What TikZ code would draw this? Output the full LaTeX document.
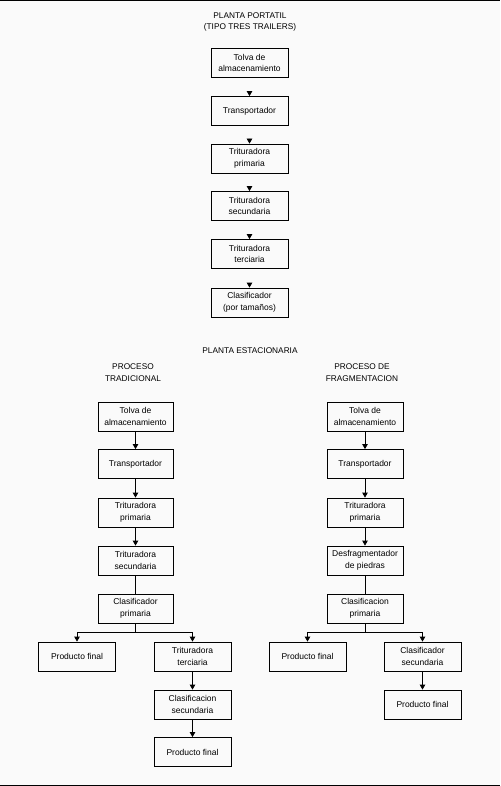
\documentclass[tikz,border=0pt]{standalone}
\usepackage{fontspec}
\setmainfont{Liberation Sans}
\usetikzlibrary{arrows.meta}
\definecolor{bg}{HTML}{FAFAFA}
\begin{document}
\begin{tikzpicture}[x=1pt,y=-1pt,
  box/.style={draw, line width=0.8pt, minimum width=77pt, minimum height=29pt, inner sep=1pt, align=center, font=\fontsize{8.5}{11.5}\selectfont},
  lbl/.style={align=center, inner sep=0pt, font=\fontsize{8.3}{11.5}\selectfont},
  ln/.style={line width=0.8pt},
  arr/.style={line width=0.8pt, -{Triangle[length=5pt,width=5.5pt]}}]
\fill[bg] (0,0) rectangle (500,786);
\useasboundingbox (0,0) rectangle (500,786);
\draw[line width=1pt] (0,1) -- (500,1);
\draw[line width=1pt] (0,785) -- (500,785);

% ---- Planta portatil ----
\node[lbl] (t1) at (250,22) {PLANTA PORTATIL\\(TIPO TRES TRAILERS)};
\node[box] (p1) at (249.5,63) {Tolva de\\almacenamiento};
\node[box] (p2) at (249.5,111) {Transportador};
\node[box] (p3) at (249.5,158.5) {Trituradora\\primaria};
\node[box] (p4) at (249.5,206) {Trituradora\\secundaria};
\node[box] (p5) at (249.5,254) {Trituradora\\terciaria};
\node[box] (p6) at (249.5,302.5) {Clasificador\\(por tamaños)};
\foreach \n in {p2,p3,p4,p5,p6}
  \draw[arr] ([yshift=5pt]\n.north) -- (\n.north);

% ---- Planta estacionaria ----
\node[lbl] (t2) at (250,351) {PLANTA ESTACIONARIA};
\node[lbl] (t3) at (133,372.5) {PROCESO\\TRADICIONAL};
\node[lbl] (t4) at (362,372.5) {PROCESO DE\\FRAGMENTACION};

% left column
\node[box, minimum width=75pt] (a1) at (135.5,416.5) {Tolva de\\almacenamiento};
\node[box, minimum width=75pt] (a2) at (135.5,464) {Transportador};
\node[box, minimum width=75pt] (a3) at (135.5,512.5) {Trituradora\\primaria};
\node[box, minimum width=75pt] (a4) at (135.5,560.5) {Trituradora\\secundaria};
\node[box, minimum width=75pt] (a5) at (135.5,608.5) {Clasificador\\primaria};
\node[box] (a6) at (77,656.5) {Producto final};
\node[box] (a7) at (192.5,656.5) {Trituradora\\terciaria};
\node[box] (a8) at (192.5,704.5) {Clasificacion\\secundaria};
\node[box] (a9) at (192.5,752) {Producto final};
\draw[arr] (a1) -- (a2);
\draw[arr] (a2) -- (a3);
\draw[arr] (a3) -- (a4);
\draw[ln] (a4) -- (a5);
\draw[ln] (a5.south) -- ++(0,9) coordinate (sa);
\draw[arr] (sa) -| (a6.north);
\draw[arr] (sa) -| (a7.north);
\draw[arr] (a7) -- (a8);
\draw[arr] (a8) -- (a9);

% right column
\node[box, minimum width=76pt] (b1) at (365,416.5) {Tolva de\\almacenamiento};
\node[box, minimum width=76pt] (b2) at (365,464) {Transportador};
\node[box, minimum width=76pt] (b3) at (365,512.5) {Trituradora\\primaria};
\node[box, minimum width=76pt] (b4) at (365,560.5) {Desfragmentador\\de piedras};
\node[box, minimum width=76pt] (b5) at (365,608.5) {Clasificacion\\primaria};
\node[box] (b6) at (307.5,656.5) {Producto final};
\node[box] (b7) at (422.5,656.5) {Clasificador\\secundaria};
\node[box] (b8) at (422.5,704.5) {Producto final};
\draw[arr] (b1) -- (b2);
\draw[arr] (b2) -- (b3);
\draw[arr] (b3) -- (b4);
\draw[ln] (b4) -- (b5);
\draw[ln] (b5.south) -- ++(0,9) coordinate (sb);
\draw[arr] (sb) -| (b6.north);
\draw[arr] (sb) -| (b7.north);
\draw[arr] (b7) -- (b8);
\end{tikzpicture}
\end{document}
